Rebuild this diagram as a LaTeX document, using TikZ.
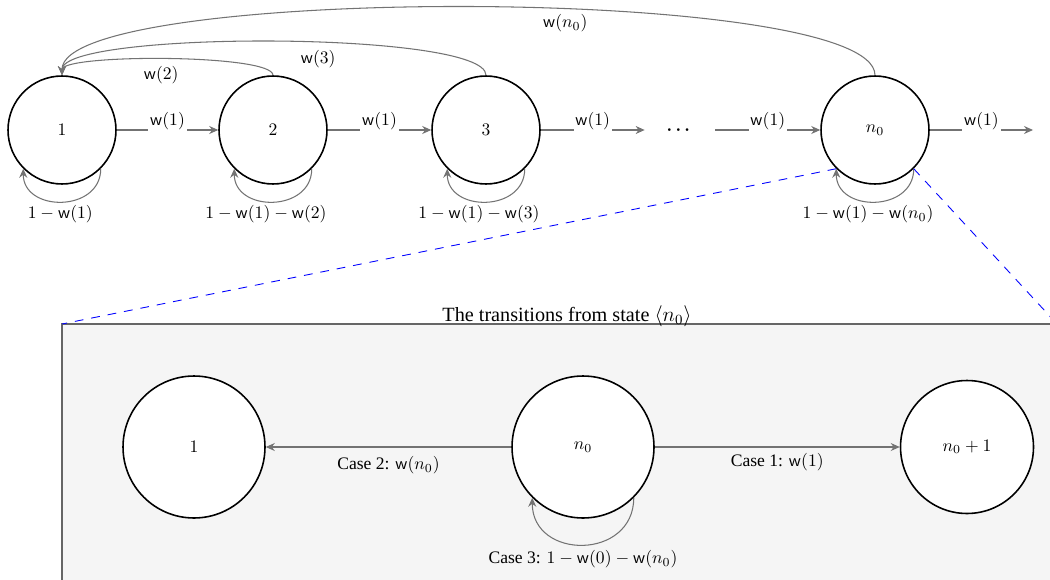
\documentclass[tikz,border=0pt]{standalone}
\usepackage{amsmath,amssymb}
\usepackage[no-math]{fontspec}
\setmainfont{Liberation Serif}
\usepackage{tikz}
\usetikzlibrary{arrows.meta}
\tikzset{
  mcstate/.style={
    circle, draw=black, fill=white, line width=0.9pt,
    minimum size=2.16cm, inner sep=0pt
  },
  mcstatebig/.style={mcstate, minimum size=2.84cm},
  mcedge/.style={-{Stealth[length=1.8mm,width=1.6mm]},draw=black!55,line width=0.6pt},
  mclabel/.style={fill=white,inner sep=1pt},
  mccase/.style={inner sep=1pt},
  mczoom/.style={draw=blue,line width=0.5pt,dash pattern=on 5pt off 4.5pt},
  mcpanel/.style={draw=black!60,fill=black!4,line width=0.6pt},
  mctitle/.style={font=\fontsize{11.5}{14}\selectfont,anchor=base,inner sep=0pt}
}
\newcommand{\wt}[1]{\mathsf{w}(#1)}

\begin{document}
\begin{tikzpicture}[x=0.02cm,y=0.02cm]
  \useasboundingbox (0,0) rectangle (1050,579);
  \clip (0,0) rectangle (1050,579);

  % Chain of states
  \node[mcstate] (s1) at (62,449) {$1$};
  \node[mcstate] (s2) at (273,449) {$2$};
  \node[mcstate] (s3) at (486,449) {$3$};
  \node[minimum width=1.4cm,inner sep=0pt] (dots) at (680,449) {$\boldsymbol{\cdots}$};
  \node[mcstate] (sn) at (875,449) {$n_0$};
  \coordinate (snout) at (1033,449);

  \draw[mcedge] (s1) -- node[mclabel,above=-1pt] {$\wt{1}$} (s2);
  \draw[mcedge] (s2) -- node[mclabel,above=-1pt] {$\wt{1}$} (s3);
  \draw[mcedge] (s3) -- node[mclabel,above=-1pt] {$\wt{1}$} (dots);
  \draw[mcedge] (dots) -- node[mclabel,above=-1pt] {$\wt{1}$} (sn);
  \draw[mcedge] (sn) -- node[mclabel,above=-1pt] {$\wt{1}$} (snout);

  \draw[mcedge] (s1.-45) to[out=-90,in=-90,looseness=1.45]
    node[mclabel,below=1pt,xshift=-1pt] {$1-\wt{1}$} (s1.-135);
  \draw[mcedge] (s2.-45) to[out=-90,in=-90,looseness=1.45]
    node[mclabel,below=1pt,xshift=-4pt] {$1-\wt{1}-\wt{2}$} (s2.-135);
  \draw[mcedge] (s3.-45) to[out=-90,in=-90,looseness=1.45]
    node[mclabel,below=1pt,xshift=-4pt] {$1-\wt{1}-\wt{3}$} (s3.-135);
  \draw[mcedge] (sn.-45) to[out=-90,in=-90,looseness=1.45]
    node[mclabel,below=1pt,xshift=-4pt] {$1-\wt{1}-\wt{n_0}$} (sn.-135);

  % Back to state 1
  \draw[mcedge] (s2.north) to[out=90,in=90,looseness=0.26]
    node[mclabel,below=3pt,pos=0.52] {$\wt{2}$} (s1.north);
  \draw[mcedge] (s3.north) to[out=90,in=90,looseness=0.27]
    node[mclabel,below=3pt,pos=0.43] {$\wt{3}$} (s1.north);
  \draw[mcedge] (sn.north) to[out=90,in=90,looseness=0.286]
    node[mclabel,below=2pt,pos=0.42] {$\wt{n_0}$} (s1.north);

  % Zoomed panel
  \coordinate (boxnw) at (62,255);
  \coordinate (boxne) at (1057,255);
  \draw[mcpanel] (62,-20) rectangle (boxne);
  \draw[mczoom] (sn.-135) -- (boxnw);
  \draw[mczoom] (sn.-45) -- (boxne);
  \node[mctitle] (paneltitle) at (567,258) {The transitions from state $\langle n_0\rangle$};

  \node[mcstatebig] (t1) at (194,132) {$1$};
  \node[mcstatebig] (tn) at (583,132) {$n_0$};
  \node[mcstatebig,minimum size=2.66cm] (tnext) at (967,132) {$n_0+1$};

  \draw[mcedge] (tn) -- node[mccase,below=4pt] {Case 2: $\wt{n_0}$} (t1);
  \draw[mcedge] (tn) -- node[mccase,below=2.5pt] {Case 1: $\wt{1}$} (tnext);
  \draw[mcedge] (tn.-45) to[out=-90,in=-90,looseness=1.58]
    node[mccase,below=2pt] {Case 3: $1-\wt{0}-\wt{n_0}$} (tn.-135);
\end{tikzpicture}
\end{document}
